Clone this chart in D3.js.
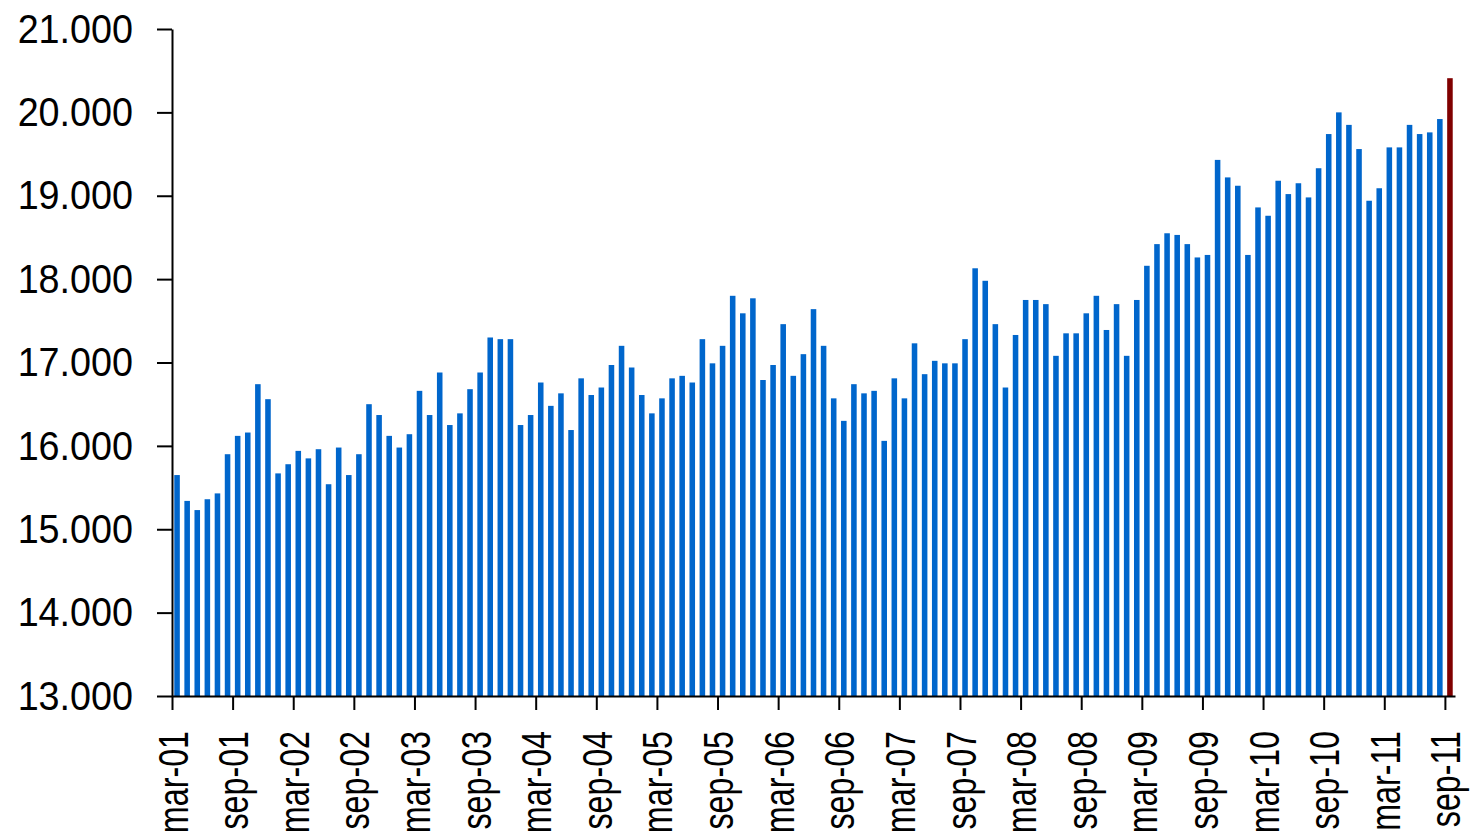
<!DOCTYPE html>
<html>
<head>
<meta charset="utf-8">
<script src="https://cdn.jsdelivr.net/npm/d3@7"></script>
<style>
  body { margin: 0; background: #fff; }
  text { font-family: "Liberation Sans", Arial, sans-serif; fill: #000; }
</style>
</head>
<body>
<div id="chart"></div>
<script>

// monthly values, mar-01 .. sep-11 (127 months)
const values = [
  15650, 15340, 15230, 15360, 15430, 15900, 16120, 16160, 16740, 16560, 15670, 15780,
  15940, 15850, 15960, 15540, 15980, 15650, 15900, 16500, 16370, 16120, 15980, 16140,
  16660, 16370, 16880, 16250, 16390, 16680, 16880, 17300, 17280, 17280, 16250, 16370,
  16760, 16480, 16630, 16190, 16810, 16610, 16700, 16970, 17200, 16940, 16610, 16390,
  16570, 16810, 16840, 16760, 17280, 16990, 17200, 17800, 17590, 17770, 16790, 16970,
  17460, 16840, 17100, 17640, 17200, 16570, 16300, 16740, 16630, 16660, 16060, 16810,
  16570, 17230, 16860, 17020, 16990, 16990, 17280, 18130, 17980, 17460, 16700, 17330,
  17750, 17750, 17700, 17080, 17350, 17350, 17590, 17800, 17390, 17700, 17080, 17750,
  18160, 18420, 18550, 18530, 18420, 18260, 18290, 19430, 19220, 19120, 18290, 18860,
  18760, 19180, 19020, 19150, 18980, 19330, 19740, 20000, 19850, 19560, 18940, 19090,
  19580, 19580, 19850, 19740, 19760, 19920, 20410
];

const tickLabels = [
  'mar-01', 'sep-01', 'mar-02', 'sep-02', 'mar-03', 'sep-03', 'mar-04', 'sep-04',
  'mar-05', 'sep-05', 'mar-06', 'sep-06', 'mar-07', 'sep-07', 'mar-08', 'sep-08',
  'mar-09', 'sep-09', 'mar-10', 'sep-10', 'mar-11', 'sep-11'
];

const yTicks = [13000, 14000, 15000, 16000, 17000, 18000, 19000, 20000, 21000];

const width = 1470;
const height = 837;
const margin = { top: 29, left: 172, right: 15, bottom: 141 };

const svg = d3.select('#chart').append('svg')
  .attr('width', width)
  .attr('height', height);

const months = d3.range(values.length);

// bars sit in bands, ticks sit on the band edges (every 6 months)
const xBand = d3.scaleBand()
  .domain(months)
  .range([margin.left, width - margin.right])
  .paddingInner(0.45)
  .paddingOuter(0.225);

const xEdge = d3.scaleLinear()
  .domain([0, values.length])
  .range([margin.left, width - margin.right]);

const yScale = d3.scaleLinear()
  .domain([13000, 21000])
  .range([height - margin.bottom, margin.top]);

const locale = d3.formatLocale({ decimal: ',', thousands: '.', grouping: [3], currency: ['', ''] });
const fmt = locale.format(',d');

svg.selectAll('rect.bar')
  .data(values)
  .enter()
  .append('rect')
  .attr('class', 'bar')
  .attr('x', (d, i) => xBand(i))
  .attr('y', d => yScale(d))
  .attr('width', xBand.bandwidth())
  .attr('height', d => yScale(13000) - yScale(d))
  .attr('fill', (d, i) => i === values.length - 1 ? '#800000' : '#0066CC');

const yAxis = d3.axisLeft(yScale)
  .tickValues(yTicks)
  .tickFormat(fmt)
  .tickSize(15)
  .tickSizeOuter(0)
  .tickPadding(24);

const gy = svg.append('g')
  .attr('transform', 'translate(' + margin.left + ',0)')
  .call(yAxis);

// the labels in the picture are a bit narrower than plain Arial
gy.selectAll('text')
  .style('font-size', '41px')
  .each(function() {
    const len = this.getComputedTextLength();
    d3.select(this).attr('textLength', len * 0.92).attr('lengthAdjust', 'spacingAndGlyphs');
  });

const xAxis = d3.axisBottom(xEdge)
  .tickValues(d3.range(0, values.length, 6))
  .tickFormat((d, i) => tickLabels[i])
  .tickSize(14)
  .tickSizeOuter(0);

const gx = svg.append('g')
  .attr('transform', 'translate(0,' + (height - margin.bottom) + ')')
  .call(xAxis);

gx.selectAll('text')
  .style('font-size', '43px')
  .attr('transform', 'rotate(-90)')
  .attr('text-anchor', 'end')
  .attr('x', -35)
  .attr('y', 0)
  .attr('dy', '0.35em')
  .each(function() {
    const len = this.getComputedTextLength();
    d3.select(this).attr('textLength', len * 0.75).attr('lengthAdjust', 'spacingAndGlyphs');
  });

svg.selectAll('.domain, .tick line')
  .attr('stroke', '#000')
  .attr('stroke-width', 2);

</script>
</body>
</html>
